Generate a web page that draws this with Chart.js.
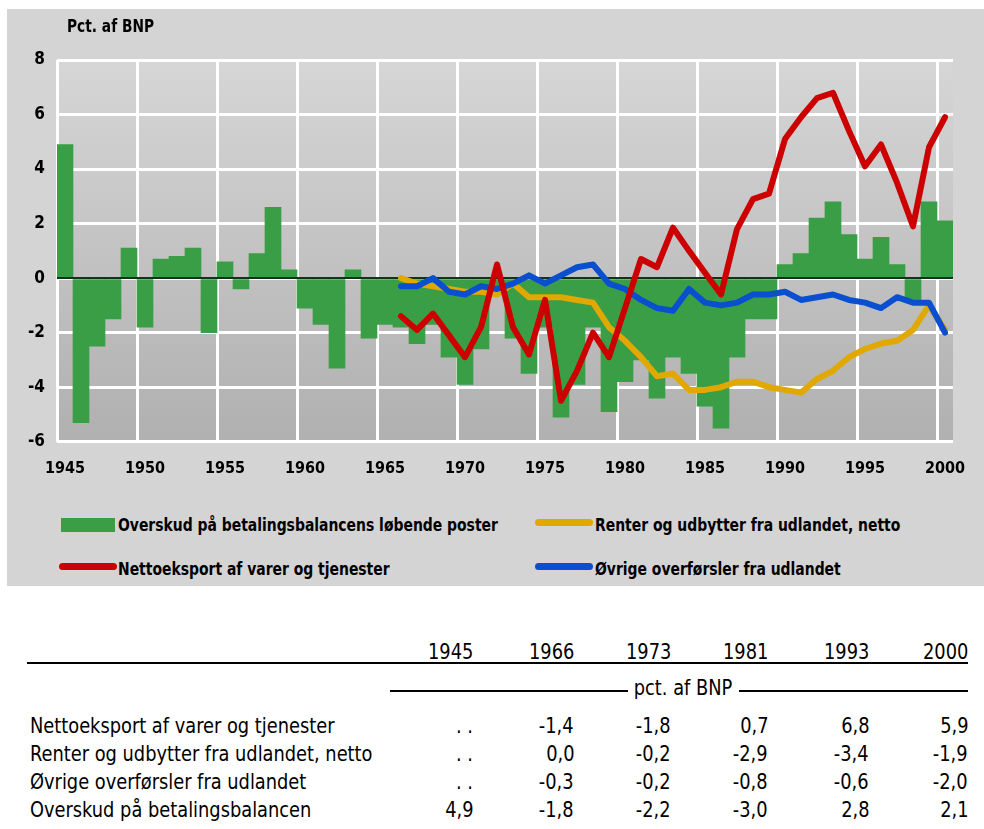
<!DOCTYPE html>
<html><head><meta charset="utf-8">
<script src="https://cdn.jsdelivr.net/npm/chart.js@4.4.0/dist/chart.umd.min.js"></script>
<style>
html,body{margin:0;padding:0;background:#fff;width:984px;height:829px;overflow:hidden;}
#wrap{position:relative;width:984px;height:829px;}
#bg{position:absolute;left:7px;top:9px;width:977px;height:577px;background:#d4d4d4;}
#c{position:absolute;left:0;top:0;}
.cf{font-family:"Liberation Sans Narrow","DejaVu Sans Condensed",sans-serif;color:#000;}
#ytitle{position:absolute;left:67px;top:15px;font-weight:bold;font-size:18px;white-space:nowrap;transform:scaleX(0.85);transform-origin:left center;}
.legtxt{position:absolute;font-weight:bold;font-size:18px;white-space:nowrap;line-height:20px;transform:scaleX(0.86);transform-origin:left center;}
.sw{position:absolute;}
.tt{position:absolute;font-size:22px;white-space:nowrap;line-height:26px;transform:scaleX(0.9);}
.tl{transform-origin:left center;}
.tr{transform-origin:right center;}
.tc{transform-origin:center center;}
.rule{position:absolute;background:#000;}
</style>
</head><body>
<div id="wrap">
<div id="bg"></div>
<canvas id="c" width="984" height="500"></canvas>
<div id="ytitle" class="cf">Pct. af BNP</div>
<div id="legend"></div>
<div id="table"></div>
</div>
<script>
// ---- data ----
const years = ['1945','1946','1947','1948','1949','1950','1951','1952','1953','1954','1955','1956','1957','1958','1959','1960','1961','1962','1963','1964','1965','1966','1967','1968','1969','1970','1971','1972','1973','1974','1975','1976','1977','1978','1979','1980','1981','1982','1983','1984','1985','1986','1987','1988','1989','1990','1991','1992','1993','1994','1995','1996','1997','1998','1999','2000'];
const surplus = [4.9,-5.3,-2.5,-1.5,1.1,-1.8,0.7,0.8,1.1,-2.0,0.6,-0.4,0.9,2.6,0.3,-1.1,-1.7,-3.3,0.3,-2.2,-1.7,-1.8,-2.4,-1.7,-2.9,-3.9,-2.6,-0.6,-2.2,-3.5,-1.8,-5.1,-3.9,-1.8,-4.9,-3.8,-3.0,-4.4,-2.9,-3.5,-4.7,-5.5,-2.9,-1.5,-1.5,0.5,0.9,2.2,2.8,1.6,0.7,1.5,0.5,-0.8,2.8,2.1];
const netExport = [null,null,null,null,null,null,null,null,null,null,null,null,null,null,null,null,null,null,null,null,null,-1.4,-1.9,-1.3,-2.1,-2.9,-1.8,0.5,-1.8,-2.8,-0.8,-4.5,-3.4,-2.0,-2.9,-1.1,0.7,0.4,1.85,1.0,0.2,-0.6,1.8,2.9,3.1,5.1,5.9,6.6,6.8,5.4,4.1,4.9,3.5,1.9,4.8,5.9];
const interest = [null,null,null,null,null,null,null,null,null,null,null,null,null,null,null,null,null,null,null,null,null,0.0,-0.2,-0.3,-0.4,-0.5,-0.5,-0.6,-0.2,-0.7,-0.7,-0.7,-0.8,-0.9,-1.8,-2.3,-2.9,-3.6,-3.5,-4.1,-4.1,-4.0,-3.8,-3.8,-4.0,-4.1,-4.2,-3.7,-3.4,-2.9,-2.6,-2.4,-2.3,-1.9,-1.0,-1.9];
const otherTransfers = [null,null,null,null,null,null,null,null,null,null,null,null,null,null,null,null,null,null,null,null,null,-0.3,-0.3,0.0,-0.5,-0.6,-0.3,-0.4,-0.2,0.1,-0.2,0.1,0.4,0.5,-0.2,-0.4,-0.8,-1.1,-1.2,-0.4,-0.9,-1.0,-0.9,-0.6,-0.6,-0.5,-0.8,-0.7,-0.6,-0.8,-0.9,-1.1,-0.7,-0.9,-0.9,-2.0];
const seriesNames = ['Overskud på betalingsbalancens løbende poster','Nettoeksport af varer og tjenester','Renter og udbytter fra udlandet, netto','Øvrige overførsler fra udlandet'];
const yTicks = [-6,-4,-2,0,2,4,6,8];
const yTitle = 'Pct. af BNP';

const tableYears = ['1945','1966','1973','1981','1993','2000'];
const tableUnit = 'pct. af BNP';
const tableRowLabels = ['Nettoeksport af varer og tjenester','Renter og udbytter fra udlandet, netto','Øvrige overførsler fra udlandet','Overskud på betalingsbalancen'];
const tableRow1 = ['. .','-1,4','-1,8','0,7','6,8','5,9'];
const tableRow2 = ['. .','0,0','-0,2','-2,9','-3,4','-1,9'];
const tableRow3 = ['. .','-0,3','-0,2','-0,8','-0,6','-2,0'];
const tableRow4 = ['4,9','-1,8','-2,2','-3,0','2,8','2,1'];

// ---- styles ----
const FONT = '"Liberation Sans Narrow","DejaVu Sans Condensed",sans-serif';
const C_GREEN='#3a9e47', C_RED='#cc0000', C_YEL='#e0a800', C_BLUE='#0a4fd0';

const bgPlugin = {
  id:'bg',
  beforeDraw(chart){
    const {ctx, chartArea:a} = chart;
    const g = ctx.createLinearGradient(0,a.top,0,a.bottom);
    g.addColorStop(0,'#d6d6d6'); g.addColorStop(1,'#b0b0b0');
    ctx.save(); ctx.fillStyle=g; ctx.fillRect(a.left,a.top,a.right-a.left,a.bottom-a.top); ctx.restore();
  }
};
const zeroPlugin = {
  id:'zero',
  afterDatasetDraw(chart,args){
    if(args.meta.type!=='bar') return;
    const {ctx, chartArea:a} = chart; const y = Math.round(chart.scales.y.getPixelForValue(0));
    ctx.save(); ctx.strokeStyle='#173017'; ctx.lineWidth=2;
    ctx.beginPath(); ctx.moveTo(a.left,y); ctx.lineTo(a.right,y); ctx.stroke(); ctx.restore();
  }
};
const lineDs = (label,data,color,order)=>({type:'line',label,data,borderColor:color,backgroundColor:color,borderWidth:6,pointRadius:0,pointHoverRadius:0,tension:0,borderCapStyle:'round',borderJoinStyle:'round',fill:false,order});

new Chart(document.getElementById('c'),{
  type:'bar',
  data:{labels:years,datasets:[
    lineDs(seriesNames[1],netExport,C_RED,1),
    lineDs(seriesNames[3],otherTransfers,C_BLUE,2),
    lineDs(seriesNames[2],interest,C_YEL,3),
    {type:'bar',label:seriesNames[0],data:surplus,backgroundColor:C_GREEN,borderWidth:0,barPercentage:1,categoryPercentage:1,order:4}
  ]},
  options:{
    responsive:false,animation:false,
    layout:{padding:{left:0,right:31,top:60,bottom:0}},
    plugins:{legend:{display:false},tooltip:{enabled:false},title:{display:false}},
    scales:{
      x:{offset:true,
        grid:{offset:true,drawTicks:false,lineWidth:3,color:(c)=>(c.type==='tick' && c.index%5===0)?'#ffffff':'rgba(0,0,0,0)'},
        border:{display:false},
        ticks:{autoSkip:false,maxRotation:0,minRotation:0,padding:18,color:'#000',font:{family:FONT,size:16,weight:'bold'},
          callback(v){const l=this.getLabelForValue(v);return (parseInt(l,10)%5===0)?l:'';}},
        afterFit(s){s.height=58.3;}
      },
      y:{min:yTicks[0],max:yTicks[yTicks.length-1],
        afterBuildTicks(s){s.ticks=yTicks.map(v=>({value:v}));},
        grid:{drawTicks:false,lineWidth:3,color:'#ffffff'},
        border:{display:false},
        ticks:{padding:12,color:'#000',font:{family:FONT,size:17,weight:'bold'}},
        afterFit(s){s.width=57;}
      }
    }
  },
  plugins:[bgPlugin,zeroPlugin]
});

// ---- legend (HTML) ----
document.getElementById('ytitle').textContent = yTitle;
const legendItems = [
  {name:seriesNames[0],color:C_GREEN,box:true,sx:61,sy:518,tx:118,ty:515},
  {name:seriesNames[2],color:C_YEL,box:false,sx:535,sy:519,tx:595,ty:515},
  {name:seriesNames[1],color:C_RED,box:false,sx:59,sy:563,tx:118,ty:559},
  {name:seriesNames[3],color:C_BLUE,box:false,sx:535,sy:563,tx:595,ty:559}
];
const leg = document.getElementById('legend');
legendItems.forEach(it=>{
  const s=document.createElement('div'); s.className='sw';
  s.style.left=it.sx+'px'; s.style.top=it.sy+'px'; s.style.background=it.color;
  if(it.box){s.style.width='54px';s.style.height='14px';}
  else {s.style.width='58px';s.style.height='7px';s.style.borderRadius='4px';}
  leg.appendChild(s);
  const t=document.createElement('div'); t.className='legtxt cf';
  t.style.left=it.tx+'px'; t.style.top=it.ty+'px'; t.textContent=it.name; leg.appendChild(t);
});

// ---- table (HTML) ----
const tbl = document.getElementById('table');
const colRight = [473,574,671,768,869,968];
function addText(txt,x,y,align){
  const d=document.createElement('div'); d.className='tt cf'; d.textContent=txt;
  if(align==='right'){d.style.right=(984-x)+'px';d.classList.add('tr');}
  else if(align==='center'){d.style.left=(x-100)+'px';d.style.width='200px';d.style.textAlign='center';d.classList.add('tc');}
  else {d.style.left=x+'px';d.classList.add('tl');}
  d.style.top=(y-13)+'px'; tbl.appendChild(d); return d;
}
function addRule(x1,x2,y,h){const r=document.createElement('div');r.className='rule';r.style.left=x1+'px';r.style.width=(x2-x1)+'px';r.style.top=y+'px';r.style.height=h+'px';tbl.appendChild(r);}
tableYears.forEach((y,i)=>addText(y,colRight[i],652,'right'));
addRule(27,968,662,2);
addRule(390,628,690,1.5);
addRule(739,968,690,1.5);
addText(tableUnit,683,688,'center');
const rows=[tableRow1,tableRow2,tableRow3,tableRow4];
const rowY=[726,754,782,810];
rows.forEach((r,ri)=>{
  addText(tableRowLabels[ri],30,rowY[ri],'left');
  r.forEach((v,ci)=>addText(v,colRight[ci],rowY[ri],'right'));
});
</script>
</body></html>
